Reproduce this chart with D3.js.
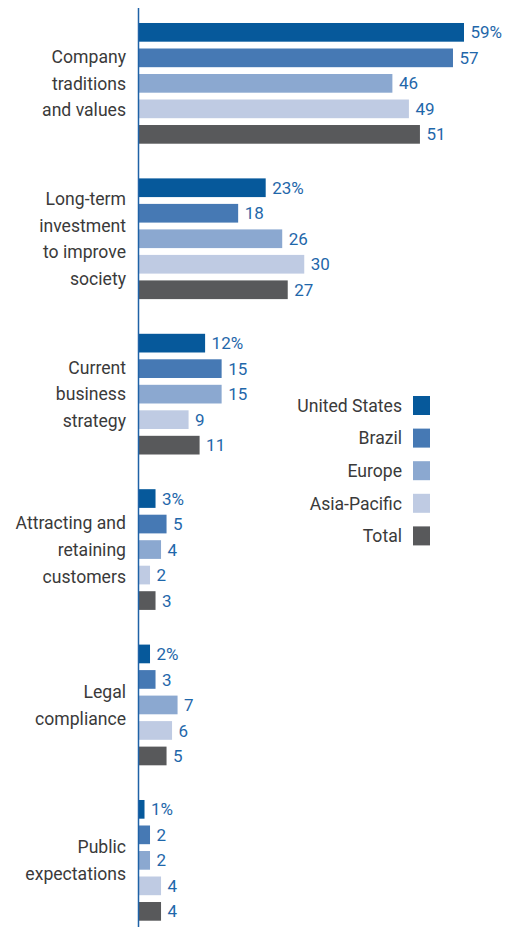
<!DOCTYPE html>
<html>
<head>
<meta charset="utf-8">
<script src="https://cdn.jsdelivr.net/npm/d3@7"></script>
<style>
  html, body { margin: 0; padding: 0; background: #fff; }
  svg { display: block; }
</style>
</head>
<body>
<svg id="chart" width="505" height="927"></svg>
<script>
// Reasons cited, by region (percent of respondents)
const categories = [
  ["Company", "traditions", "and values"],
  ["Long-term", "investment", "to improve", "society"],
  ["Current", "business", "strategy"],
  ["Attracting and", "retaining", "customers"],
  ["Legal", "compliance"],
  ["Public", "expectations"]
];
const seriesNames = ["United States", "Brazil", "Europe", "Asia-Pacific", "Total"];
const unitedStates = [59, 23, 12, 3, 2, 1];
const brazil       = [57, 18, 15, 5, 3, 2];
const europe       = [46, 26, 15, 4, 7, 2];
const asiaPacific  = [49, 30,  9, 2, 6, 4];
const total        = [51, 27, 11, 3, 5, 4];
const seriesValues = [unitedStates, brazil, europe, asiaPacific, total];
const colors = ["#06599b", "#4679b4", "#8ba8d0", "#bfcbe3", "#58595b"];

const svg = d3.select("#chart");
const font = "Roboto, 'Noto Sans', sans-serif";

const groupIdx = d3.range(categories.length);
const x = d3.scaleLinear().domain([0, 59]).range([139, 464]);
const y0 = d3.scaleBand().domain(groupIdx).range([19.6, 19.6 + 155.4 * categories.length]).padding(0);
const y1 = d3.scaleBand().domain(seriesNames).range([0, 127.5]).paddingInner(0.267).paddingOuter(0.133);
const color = d3.scaleOrdinal().domain(seriesNames).range(colors);

const rows = [];
groupIdx.forEach(g => seriesNames.forEach((s, k) => rows.push({ g, s, v: seriesValues[k][g] })));

// bars
svg.append("g").selectAll("rect").data(rows).join("rect")
  .attr("x", x(0))
  .attr("y", d => y0(d.g) + y1(d.s))
  .attr("width", d => x(d.v) - x(0))
  .attr("height", y1.bandwidth())
  .attr("fill", d => color(d.s));

// value labels
svg.append("g").selectAll("text").data(rows).join("text")
  .attr("x", d => x(d.v) + 6.5)
  .attr("y", d => y0(d.g) + y1(d.s) + y1.bandwidth() / 2)
  .attr("dy", "0.36em")
  .attr("font-family", font)
  .attr("font-size", 17)
  .attr("fill", "#1f67aa")
  .text(d => d.s === "United States" ? d.v + "%" : d.v);

// category labels
const lineH = 26.8;
const cat = svg.append("g").selectAll("text").data(groupIdx).join("text")
  .attr("text-anchor", "end")
  .attr("font-family", font)
  .attr("font-size", 17.6)
  .attr("fill", "#3a3a3a");
cat.each(function(g) {
  const lines = categories[g];
  const cy = y0(g) + y1.range()[1] / 2;
  const top = cy - (lines.length - 1) * lineH / 2;
  d3.select(this).selectAll("tspan").data(lines).join("tspan")
    .attr("x", 126)
    .attr("y", (d, i) => top + i * lineH)
    .attr("dy", "0.36em")
    .text(d => d);
});

// vertical axis line
svg.append("line")
  .attr("x1", 138.5).attr("x2", 138.5)
  .attr("y1", 8).attr("y2", 927)
  .attr("stroke", "#1f62a6").attr("stroke-width", 1.5);

// legend
const legend = svg.append("g").selectAll("g").data(seriesNames).join("g")
  .attr("transform", (d, i) => `translate(0, ${396 + i * 32.6})`);
legend.append("rect")
  .attr("x", 413).attr("y", 0)
  .attr("width", 17).attr("height", 19)
  .attr("fill", d => color(d));
legend.append("text")
  .attr("x", 402).attr("y", 9.5).attr("dy", "0.36em")
  .attr("text-anchor", "end")
  .attr("font-family", font)
  .attr("font-size", 17.6)
  .attr("fill", "#3a3a3a")
  .text(d => d);
</script>
</body>
</html>
